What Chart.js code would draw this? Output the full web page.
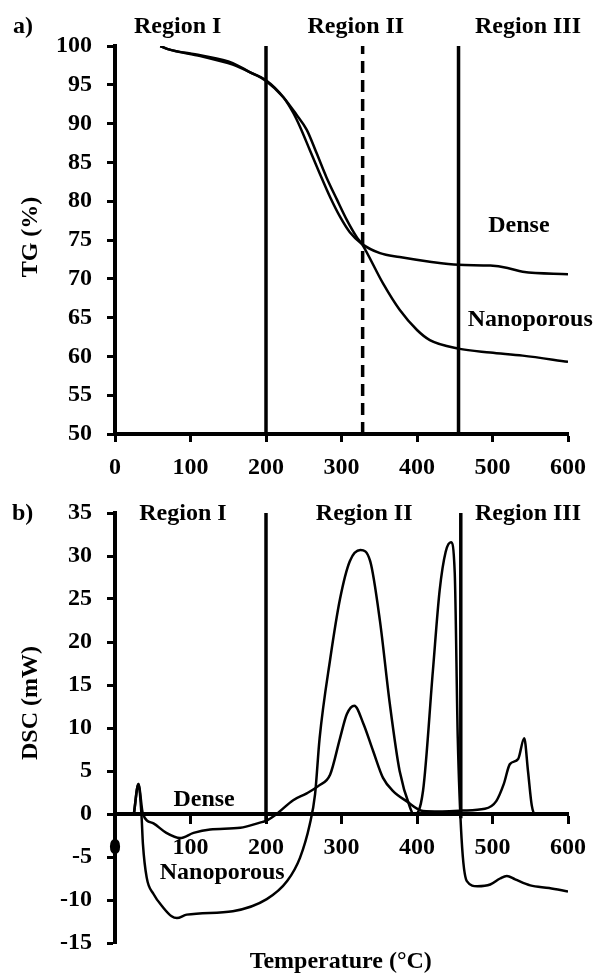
<!DOCTYPE html>
<html>
<head>
<meta charset="utf-8">
<script src="https://cdn.jsdelivr.net/npm/chart.js@4"></script>
<style>
	body { margin: 0; background: #fff; }
	canvas { display: block; }
</style>
</head>
<body>
<canvas id="tg-chart" width="598" height="475"></canvas>
<canvas id="dsc-chart" width="598" height="502"></canvas>
<script>
// a) TG (%)
const denseTgTemp = [60, 70, 113, 156, 179, 200, 223, 236, 245, 258, 271, 285, 298, 311, 327, 351, 377, 417, 455, 497, 520, 540, 600]
const denseTg = [100, 99.6, 98.8, 97.8, 96.6, 95.6, 93.4, 91.4, 89.6, 86.6, 83.6, 80.5, 78, 76, 74.5, 73.3, 72.8, 72.2, 71.8, 71.7, 71.4, 70.9, 70.6]
const nanoTgTemp = [60, 70, 113, 156, 179, 200, 223, 240, 254, 267, 280, 294, 307, 320, 327, 355, 377, 400, 417, 455, 497, 540, 600]
const nanoTg = [100, 99.6, 98.7, 97.6, 96.6, 95.5, 93.4, 91.2, 89.2, 86.2, 83.1, 80.2, 77.6, 75.4, 74.5, 69.4, 66, 63.4, 62.1, 61, 60.5, 60.1, 59.3]

// b) DSC (mW)
const denseDscTemp = [25, 31, 37, 51, 68, 86, 104, 126, 166, 192, 200, 214, 236, 254, 270, 285, 298, 307, 317, 329, 342, 355, 368, 386, 408, 430, 460, 490, 505, 515, 523, 534, 542, 547, 552, 556, 600]
const denseDsc = [0, 3.5, 0, -1.1, -2.2, -2.8, -2.2, -1.8, -1.6, -1, -0.8, 0, 1.6, 2.4, 3.3, 4.6, 8.8, 11.6, 12.6, 10.5, 7.3, 4.2, 2.7, 1.5, 0.35, 0.3, 0.4, 0.6, 1.5, 3.5, 5.8, 6.4, 8.8, 5, 1, 0, 0]
const nanoDscTemp = [25, 31, 35, 37, 42, 51, 64, 75, 82, 95, 156, 201, 228, 245, 258, 265, 271, 285, 298, 311, 325, 338, 351, 364, 377, 391, 396, 408, 421, 430, 438, 445, 450, 454, 459, 466, 480, 497, 510, 519, 530, 550, 575, 600]
const nanoDsc = [0, 3.5, 0, -3.5, -7.4, -9.3, -10.9, -11.9, -12.1, -11.7, -11.3, -9.9, -7.8, -5.1, -1.2, 2.3, 8.8, 18, 25, 29.4, 30.7, 29.4, 22.4, 12.8, 5, 0.7, -0.1, 2.7, 16.6, 26, 30.5, 31.6, 28, 8.8, -2.8, -7.8, -8.4, -8.2, -7.5, -7.2, -7.6, -8.3, -8.6, -9]

// region boundaries
const tgBounds = [200, 328, 455]
const dscBounds = [200, 458]
const dscBoundBottoms = [-0.8, -0.5]

const FONT = 'bold 24px "Liberation Serif", "Times New Roman", serif'
Chart.defaults.font.family = '"Liberation Serif", "Times New Roman", serif'
Chart.defaults.font.size = 24
Chart.defaults.font.weight = 'bold'
Chart.defaults.color = '#000'

const toPoints = (xs, ys) => xs.map((x, i) => { return { x: x, y: ys[i] } })

const curve = (label, xs, ys) => {
	return {
		label: label,
		data: toPoints(xs, ys),
		borderColor: '#000',
		borderWidth: 2.5,
		pointRadius: 0,
		cubicInterpolationMode: 'monotone'
	}
}

const vline = (x, y0, y1, dashed) => {
	return {
		data: [{ x: x, y: y0 }, { x: x, y: y1 }],
		borderColor: '#000',
		borderWidth: 3.5,
		borderDash: dashed ? [12, 7] : [],
		pointRadius: 0
	}
}

// draws the free text on the canvas (data coords unless px/py given)
const textLabels = {
	id: 'textLabels',
	afterDraw(chart, args, opts) {
		const { ctx, scales } = chart
		ctx.save()
		ctx.fillStyle = '#000'
		ctx.font = FONT
		ctx.textBaseline = 'alphabetic'
		opts.items.forEach(t => {
			const x = t.px !== undefined ? t.px : scales.x.getPixelForValue(t.x)
			const y = t.py !== undefined ? t.py : scales.y.getPixelForValue(t.y)
			ctx.save()
			ctx.translate(x, y)
			if (t.rotate) ctx.rotate(-Math.PI / 2)
			ctx.textAlign = t.align || 'center'
			ctx.fillText(t.text, 0, 0)
			ctx.restore()
		})
		ctx.restore()
	}
}

const axisStyle = (min, max, step, padding) => {
	return {
		type: 'linear',
		min: min,
		max: max,
		ticks: { stepSize: step, padding: padding },
		border: { width: 4, color: '#000' },
		grid: { drawOnChartArea: false, drawTicks: true, tickLength: 8, tickWidth: 3, tickColor: '#000' }
	}
}

const getOptions = (yMin, yMax, padding, xPos, texts) => {
	const x = axisStyle(0, 600, 100, 11)
	const y = axisStyle(yMin, yMax, 5, 15)
	x.position = xPos
	x.afterFit = s => { s.height = 41 }
	y.afterFit = s => { s.width = 115 }
	return {
		responsive: false,
		animation: false,
		layout: { padding: padding },
		scales: { x: x, y: y },
		plugins: {
			legend: { display: false },
			tooltip: { enabled: false },
			textLabels: { items: texts }
		}
	}
}

const tgTexts = [
	{ text: 'a)', px: 13, py: 33, align: 'left' },
	{ text: 'Region I', x: 83, y: 101.7 },
	{ text: 'Region II', x: 319, y: 101.7 },
	{ text: 'Region III', x: 547, y: 101.7 },
	{ text: 'Dense', x: 535, y: 76 },
	{ text: 'Nanoporous', x: 550, y: 63.9 },
	{ text: 'TG (%)', px: 37, py: 237, rotate: true }
]

new Chart(document.getElementById('tg-chart'), {
	type: 'line',
	data: {
		datasets: [
			curve('Dense', denseTgTemp, denseTg),
			curve('Nanoporous', nanoTgTemp, nanoTg),
			vline(tgBounds[0], 50, 100, false),
			vline(tgBounds[1], 50, 100, true),
			vline(tgBounds[2], 50, 100, false)
		]
	},
	options: getOptions(50, 100, { top: 46, right: 30, bottom: 0, left: 0 }, 'bottom', tgTexts),
	plugins: [textLabels]
})

const dscTexts = [
	{ text: 'b)', px: 12, py: 45, align: 'left' },
	{ text: 'Region I', x: 90, y: 34.2 },
	{ text: 'Region II', x: 330, y: 34.2 },
	{ text: 'Region III', x: 547, y: 34.2 },
	{ text: 'Dense', x: 118, y: 0.93 },
	{ text: 'Nanoporous', x: 142, y: -7.56 },
	{ text: 'Temperature (°C)', x: 299, y: -17.9 },
	{ text: 'DSC (mW)', px: 37, py: 228, rotate: true }
]

new Chart(document.getElementById('dsc-chart'), {
	type: 'line',
	data: {
		datasets: [
			curve('Dense', denseDscTemp, denseDsc),
			curve('Nanoporous', nanoDscTemp, nanoDsc),
			vline(dscBounds[0], dscBoundBottoms[0], 35, false),
			vline(dscBounds[1], dscBoundBottoms[1], 35, false)
		]
	},
	options: getOptions(-15, 35, { top: 38, right: 30, bottom: 34, left: 0 }, { y: 0 }, dscTexts),
	plugins: [textLabels]
})
</script>
</body>
</html>
